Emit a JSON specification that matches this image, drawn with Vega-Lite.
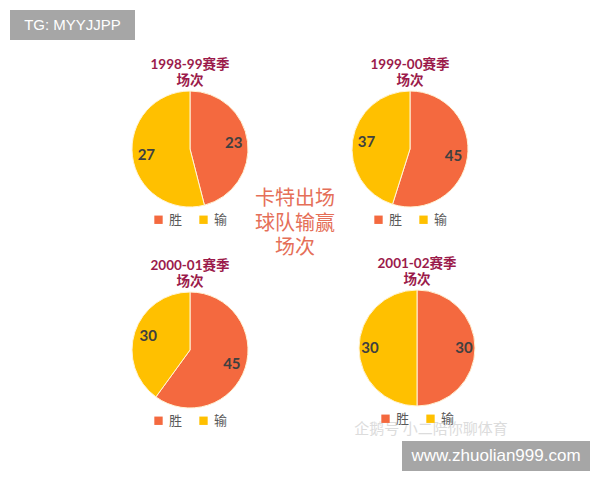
{
  "$schema": "https://vega.github.io/schema/vega-lite/v6.json",
  "description": "Carter games: team wins and losses per season, four pies.",
  "padding": {"left": 10, "top": 10, "right": 0, "bottom": 0},
  "background": "white",
  "spacing": 0,
  "datasets": {
    "games": [
      {"season": "1998-99", "result": "胜", "n": 23},
      {"season": "1998-99", "result": "输", "n": 27},
      {"season": "1999-00", "result": "胜", "n": 45},
      {"season": "1999-00", "result": "输", "n": 37},
      {"season": "2000-01", "result": "胜", "n": 45},
      {"season": "2000-01", "result": "输", "n": 30},
      {"season": "2001-02", "result": "胜", "n": 30},
      {"season": "2001-02", "result": "输", "n": 30}
    ],
    "tags": [
      {"tg": "TG: MYYJJPP", "site": "www.zhuolian999.com", "note": "卡特出场|球队输赢|场次", "wm": "企鹅号 小二陪你聊体育"}
    ]
  },
  "resolve": {"scale": {"color": "independent"}, "legend": {"color": "independent"}},
  "vconcat": [
    {
      "width": 125,
      "height": 30,
      "view": {"fill": "#A6A6A6"},
      "data": {"name": "tags"},
      "mark": {"type": "text", "font": "Liberation Sans", "fontSize": 15, "color": "white"},
      "encoding": {"text": {"field": "tg"}}
    },
    {"width": 1, "height": 17, "data": {"values": []}, "mark": "text"},
    {
      "spacing": 0,
      "resolve": {"scale": {"color": "independent"}, "legend": {"color": "independent"}},
      "hconcat": [
        {"width": 120, "height": 1, "data": {"values": []}, "mark": "text"},
        {
          "spacing": 31,
          "resolve": {"scale": {"color": "independent"}, "legend": {"color": "independent"}},
          "vconcat": [
            {
              "width": 120, "height": 116,
              "title": {"text": ["1998-99赛季", "场次"]},
              "data": {"name": "games"},
              "transform": [{"filter": "datum.season === '1998-99'"}],
              "encoding": {
                "theta": {"field": "n", "type": "quantitative", "stack": true},
                "order": {"field": "result", "type": "ordinal", "sort": "ascending"},
                "color": {"field": "result", "type": "nominal", "scale": {"domain": ["胜", "输"], "range": ["#F4693F", "#FFC000"]}}
              },
              "layer": [
                {"mark": {"type": "arc", "outerRadius": 58, "stroke": "#FFF4D6", "strokeWidth": 1}},
                {"mark": {"type": "text", "radius": 44, "fontSize": 15, "fontWeight": "bold", "font": "Lato"},
                 "encoding": {"text": {"field": "n", "type": "quantitative"}, "color": {"value": "#404040"}}}
              ]
            },
            {
              "width": 120, "height": 116,
              "title": {"text": ["2000-01赛季", "场次"]},
              "data": {"name": "games"},
              "transform": [{"filter": "datum.season === '2000-01'"}],
              "encoding": {
                "theta": {"field": "n", "type": "quantitative", "stack": true},
                "order": {"field": "result", "type": "ordinal", "sort": "ascending"},
                "color": {"field": "result", "type": "nominal", "scale": {"domain": ["胜", "输"], "range": ["#F4693F", "#FFC000"]}}
              },
              "layer": [
                {"mark": {"type": "arc", "outerRadius": 58, "stroke": "#FFF4D6", "strokeWidth": 1}},
                {"mark": {"type": "text", "radius": 44, "fontSize": 15, "fontWeight": "bold", "font": "Lato"},
                 "encoding": {"text": {"field": "n", "type": "quantitative"}, "color": {"value": "#404040"}}}
              ]
            }
          ]
        },
        {
          "width": 90,
          "height": 216,
          "data": {"name": "tags"},
          "mark": {"type": "text", "lineBreak": "|", "font": "DejaVu Sans, Noto Sans CJK SC", "fontSize": 20, "lineHeight": 24.5, "baseline": "middle", "color": "#E56F58"},
          "encoding": {"text": {"field": "note"}}
        },
        {
          "spacing": 29,
          "resolve": {"scale": {"color": "independent"}, "legend": {"color": "independent"}},
          "vconcat": [
            {
              "width": 140, "height": 116,
              "title": {"text": ["1999-00赛季", "场次"]},
              "data": {"name": "games"},
              "transform": [{"filter": "datum.season === '1999-00'"}],
              "encoding": {
                "theta": {"field": "n", "type": "quantitative", "stack": true},
                "order": {"field": "result", "type": "ordinal", "sort": "ascending"},
                "color": {"field": "result", "type": "nominal", "scale": {"domain": ["胜", "输"], "range": ["#F4693F", "#FFC000"]}}
              },
              "layer": [
                {"mark": {"type": "arc", "outerRadius": 58, "stroke": "#FFF4D6", "strokeWidth": 1}},
                {"mark": {"type": "text", "radius": 44, "fontSize": 15, "fontWeight": "bold", "font": "Lato"},
                 "encoding": {"text": {"field": "n", "type": "quantitative"}, "color": {"value": "#404040"}}}
              ]
            },
            {
              "width": 154, "height": 116,
              "title": {"text": ["2001-02赛季", "场次"]},
              "layer": [
                {
                  "data": {"name": "tags"},
                  "mark": {"type": "text", "dx": 14, "dy": 81, "fontSize": 15, "font": "Noto Sans CJK SC", "color": "#DCDCDC"},
                  "encoding": {"text": {"field": "wm"}}
                },
                {
                  "data": {"name": "games"},
                  "transform": [{"filter": "datum.season === '2001-02'"}],
                  "encoding": {
                    "theta": {"field": "n", "type": "quantitative", "stack": true},
                    "order": {"field": "result", "type": "ordinal", "sort": "ascending"},
                    "color": {"field": "result", "type": "nominal", "scale": {"domain": ["胜", "输"], "range": ["#F4693F", "#FFC000"]}}
                  },
                  "layer": [
                    {"mark": {"type": "arc", "outerRadius": 58, "stroke": "#FFF4D6", "strokeWidth": 1}},
                    {"mark": {"type": "text", "radius": 47, "fontSize": 15, "fontWeight": "bold", "font": "Lato"},
                     "encoding": {"text": {"field": "n", "type": "quantitative"}, "color": {"value": "#404040"}}}
                  ]
                }
              ]
            }
          ]
        }
      ]
    },
    {"width": 1, "height": 4, "data": {"values": []}, "mark": "text"},
    {
      "spacing": 0,
      "hconcat": [
        {"width": 392, "height": 1, "data": {"values": []}, "mark": "text"},
        {
          "width": 188,
          "height": 30,
          "view": {"fill": "#A6A6A6"},
          "data": {"name": "tags"},
          "mark": {"type": "text", "font": "Liberation Sans", "fontSize": 17, "color": "white"},
          "encoding": {"text": {"field": "site"}}
        }
      ]
    }
  ],
  "config": {
    "view": {"stroke": null},
    "title": {
      "font": "Lato, Noto Sans CJK SC",
      "fontSize": 13.5,
      "fontWeight": "bold",
      "color": "#9B1B4B",
      "anchor": "middle",
      "offset": 2,
      "lineHeight": 16
    },
    "legend": {
      "orient": "bottom",
      "direction": "horizontal",
      "title": null,
      "symbolType": "square",
      "symbolSize": 70,
      "symbolStrokeWidth": 0,
      "labelFont": "Noto Sans CJK SC",
      "labelFontSize": 13,
      "labelColor": "#595959",
      "columnPadding": 14,
      "offset": 6,
      "layout": {"bottom": {"anchor": "middle"}}
    }
  }
}
